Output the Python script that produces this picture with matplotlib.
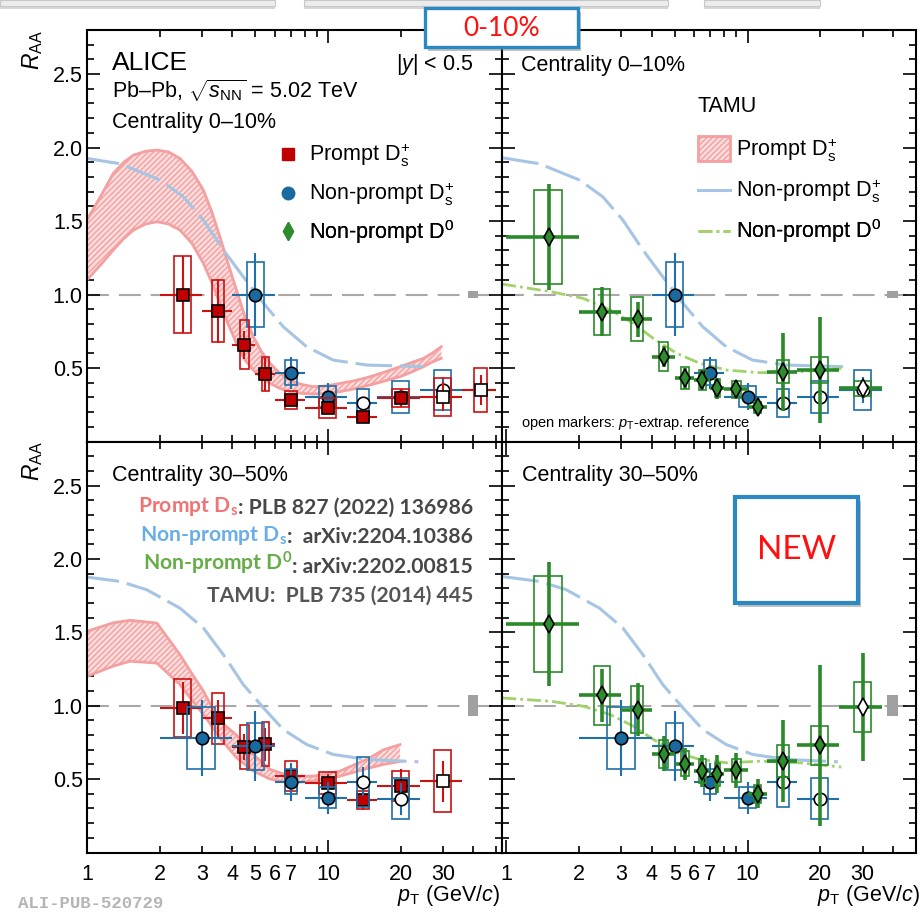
import numpy as np
import matplotlib
matplotlib.use('Agg')
import matplotlib.pyplot as plt
from matplotlib.patches import Rectangle, Patch
from matplotlib.lines import Line2D
from matplotlib.ticker import FixedLocator, MultipleLocator
import matplotlib.patheffects as pe

plt.rcParams['font.family'] = ['Liberation Sans', 'DejaVu Sans']
plt.rcParams['mathtext.fontset'] = 'custom'
plt.rcParams['mathtext.rm'] = 'Liberation Sans'
plt.rcParams['mathtext.it'] = 'Liberation Sans:italic'
plt.rcParams['mathtext.bf'] = 'Lato:bold'
plt.rcParams['hatch.linewidth'] = 1.0

# ---------------- data : centrality 0-10% ----------------
# prompt Ds+
ps010_lo = [2, 3, 4, 5, 6, 8, 12, 16, 24, 36]
ps010_hi = [3, 4, 5, 6, 8, 12, 16, 24, 36, 50]
ps010_r = [1.00, 0.888, 0.659, 0.457, 0.282, 0.226, 0.169, 0.298, 0.305, 0.350]
ps010_stat = [0.26, 0.22, 0.095, 0.11, 0.04, 0.03, 0.02, 0.06, 0.10, 0.10]
ps010_syst = [0.26, 0.21, 0.165, 0.115, 0.063, 0.068, 0.03, 0.06, 0.13, 0.15]
ps010_open = [False] * 8 + [True, True]
# non-prompt Ds+
nps010_lo = [4, 6, 8, 12, 16, 24]
nps010_hi = [6, 8, 12, 16, 24, 36]
nps010_r = [1.00, 0.468, 0.305, 0.264, 0.305, 0.350]
nps010_stat = [0.28, 0.11, 0.09, 0.04, 0.05, 0.09]
nps010_syst = [0.22, 0.085, 0.07, 0.095, 0.11, 0.135]
nps010_open = [False, False, False, True, True, True]
# non-prompt D0
npd010_lo = [1, 2, 3, 4, 5, 6, 7, 8, 10, 12, 16, 24]
npd010_hi = [2, 3, 4, 5, 6, 7, 8, 10, 12, 16, 24, 36]
npd010_r = [1.389, 0.883, 0.831, 0.577, 0.430, 0.418, 0.362, 0.355, 0.232, 0.475, 0.486, 0.362]
npd010_stat = [0.36, 0.165, 0.12, 0.07, 0.07, 0.07, 0.07, 0.06, 0.04, 0.265, 0.36, 0.05]
npd010_syst = [0.32, 0.155, 0.15, 0.10, 0.075, 0.07, 0.06, 0.06, 0.04, 0.08, 0.09, 0.05]
npd010_open = [False] * 11 + [True]

# ---------------- data : centrality 30-50% ----------------
ps3050_lo = [2, 3, 4, 5, 6, 8, 12, 16, 24]
ps3050_hi = [3, 4, 5, 6, 8, 12, 16, 24, 36]
ps3050_r = [0.985, 0.913, 0.718, 0.736, 0.520, 0.475, 0.357, 0.452, 0.486]
ps3050_stat = [0.175, 0.125, 0.09, 0.11, 0.07, 0.06, 0.07, 0.12, 0.14]
ps3050_syst = [0.20, 0.175, 0.15, 0.15, 0.10, 0.075, 0.06, 0.10, 0.21]
ps3050_open = [False] * 8 + [True]

nps3050_lo = [2, 4, 6, 8, 12, 16]
nps3050_hi = [4, 6, 8, 12, 16, 24]
nps3050_r = [0.781, 0.724, 0.482, 0.373, 0.482, 0.366]
nps3050_stat = [0.26, 0.24, 0.13, 0.11, 0.10, 0.11]
nps3050_syst = [0.21, 0.16, 0.085, 0.07, 0.17, 0.14]
nps3050_open = [False, False, False, False, True, True]

npd3050_lo = [1, 2, 3, 4, 5, 6, 7, 8, 10, 12, 16, 24]
npd3050_hi = [2, 3, 4, 5, 6, 7, 8, 10, 12, 16, 24, 36]
npd3050_r = [1.557, 1.071, 0.974, 0.672, 0.604, 0.554, 0.532, 0.559, 0.400, 0.622, 0.729, 0.992]
npd3050_stat = [0.42, 0.18, 0.18, 0.12, 0.11, 0.11, 0.13, 0.12, 0.10, 0.28, 0.55, 0.37]
npd3050_syst = [0.33, 0.20, 0.16, 0.095, 0.085, 0.08, 0.08, 0.08, 0.06, 0.11, 0.135, 0.17]
npd3050_open = [False] * 11 + [True]

# normalisation uncertainty boxes
norm_pt = 40
norm_unc_010 = 0.025
norm_unc_3050 = 0.07

# ---------------- TAMU model curves ----------------
tamu_ps010_pt = [1, 1.15, 1.285, 1.42, 1.56, 1.75, 1.95, 2.18, 2.43, 2.72, 3.04, 3.3, 3.56, 3.85, 4.17, 4.5, 4.9, 5.3, 5.75, 6.3, 6.95, 7.7, 8.67, 9.8, 11.2, 13, 14.9, 17, 19.9, 22, 24.9, 27, 29.5]
tamu_ps010_hi = [1.507, 1.68, 1.824, 1.90, 1.949, 1.975, 1.983, 1.97, 1.926, 1.84, 1.711, 1.56, 1.393, 1.21, 1.031, 0.86, 0.713, 0.61, 0.532, 0.465, 0.418, 0.39, 0.373, 0.378, 0.395, 0.415, 0.44, 0.47, 0.509, 0.535, 0.566, 0.60, 0.645]
tamu_ps010_lo = [1.10, 1.21, 1.303, 1.38, 1.439, 1.48, 1.495, 1.48, 1.439, 1.35, 1.212, 1.08, 0.94, 0.80, 0.668, 0.56, 0.486, 0.435, 0.396, 0.362, 0.339, 0.328, 0.323, 0.328, 0.339, 0.36, 0.384, 0.41, 0.441, 0.47, 0.509, 0.54, 0.566]

tamu_nps010_pt = [0.96, 1.0, 1.37, 2.01, 2.51, 3.04, 3.68, 4.45, 5.4, 6.52, 8.15, 10.5, 14.5, 19.9, 24.9]
tamu_nps010_r = [1.93, 1.926, 1.89, 1.779, 1.665, 1.507, 1.303, 1.121, 0.94, 0.781, 0.645, 0.554, 0.52, 0.514, 0.509]

tamu_npd010_pt = [0.96, 1.53, 2.08, 2.69, 3.36, 4.06, 5.08, 6.34, 8.2, 11.3, 16.5, 24.5]
tamu_npd010_r = [1.071, 1.019, 0.974, 0.895, 0.804, 0.702, 0.600, 0.532, 0.486, 0.468, 0.475, 0.498]

tamu_ps3050_pt = [1, 1.285, 1.51, 1.95, 2.43, 2.72, 3.04, 3.3, 3.56, 4.17, 4.9, 5.75, 6.95, 8.67, 11.2, 14.9, 17, 19.9]
tamu_ps3050_hi = [1.507, 1.565, 1.582, 1.563, 1.348, 1.22, 1.10, 0.99, 0.895, 0.80, 0.668, 0.566, 0.520, 0.520, 0.554, 0.645, 0.70, 0.735]
tamu_ps3050_lo = [1.20, 1.27, 1.303, 1.29, 1.144, 1.04, 0.94, 0.86, 0.78, 0.646, 0.555, 0.500, 0.475, 0.486, 0.520, 0.577, 0.60, 0.620]

tamu_nps3050_pt = [0.96, 1.37, 1.77, 2.43, 3.04, 3.68, 4.45, 5.4, 6.52, 8.15, 10.5, 14.5, 23.7]
tamu_nps3050_r = [1.88, 1.847, 1.79, 1.665, 1.529, 1.348, 1.144, 0.985, 0.838, 0.736, 0.668, 0.634, 0.618]

tamu_npd3050_pt = [0.96, 1.53, 2.08, 2.69, 3.36, 4.06, 5.08, 6.34, 8.2, 11.3, 16.5, 24.5]
tamu_npd3050_r = [1.053, 1.030, 0.997, 0.940, 0.861, 0.771, 0.681, 0.634, 0.611, 0.622, 0.611, 0.582]

xtick_major = [1, 10]
xtick_minor = [2, 3, 4, 5, 6, 7, 8, 9, 20, 30, 40, 50]
xtick_minor_labels = ['2', '3', '4', '5', '6', '7', '', '', '20', '30', '', '']
ytick_major = [0.5, 1.0, 1.5, 2.0, 2.5]

# ---------------- colours ----------------
C_RED = '#cc1111'
C_RED_F = '#c00000'
C_BLUE = '#1f70a8'
C_BLUE_F = '#1a6aa0'
C_GREEN = '#2a8a2a'
C_GREEN_F = '#2e8b2e'
C_BAND_EDGE = '#f4a0a0'
C_BAND_FILL = '#fcdcdc'
C_TBLUE = '#a6c4e4'
C_TGREEN = '#a3d16b'

W, H = 923, 914
fig = plt.figure(figsize=(W / 100, H / 100), dpi=100)
fig.patch.set_facecolor('white')


def fx(x):
    return x / W


def fy(y):
    return 1 - y / H


axTL = fig.add_axes([fx(87), fy(441.5), 415 / W, 411.5 / H])
axTR = fig.add_axes([fx(502), fy(441.5), 414 / W, 411.5 / H])
axBL = fig.add_axes([fx(87), fy(852.5), 415 / W, 411 / H])
axBR = fig.add_axes([fx(502), fy(852.5), 414 / W, 411 / H])

for ax in (axTL, axTR, axBL, axBR):
    ax.set_xscale('log')
    ax.set_ylim(0, 2.8)
    ax.xaxis.set_major_locator(FixedLocator(xtick_major))
    ax.xaxis.set_minor_locator(FixedLocator(xtick_minor))
    ax.yaxis.set_major_locator(FixedLocator(ytick_major))
    ax.yaxis.set_minor_locator(MultipleLocator(0.1))
    ax.tick_params(which='both', direction='in', top=True, right=True, width=1.2,
                   labelsize=15.5, colors='black')
    ax.tick_params(which='major', length=9.5)
    ax.tick_params(which='minor', length=4.7)
    ax.tick_params(axis='x', which='both', pad=8)
    ax.tick_params(axis='y', which='both', pad=3)
    for s in ax.spines.values():
        s.set_linewidth(1.5)
    ax.axhline(1.0, color='#a8a8a8', lw=1.5, dashes=(10.5, 4.8), zorder=1)

axTL.set_xlim(1, 52.7)
axBL.set_xlim(1, 52.7)
axTR.set_xlim(0.958, 50)
axBR.set_xlim(0.958, 50)

for ax in (axBL, axBR):
    ax.set_xticks(xtick_major, [str(v) for v in xtick_major])
    ax.set_xticks(xtick_minor, xtick_minor_labels, minor=True)
for ax in (axTL, axTR):
    ax.tick_params(axis='x', which='both', labelbottom=False)
for ax in (axTL, axBL):
    ax.set_yticks(ytick_major, ['%.1f' % v for v in ytick_major])
for ax in (axTR, axBR):
    ax.tick_params(axis='y', which='both', labelleft=False)


def draw_series(ax, lo, hi, r, stat, syst, is_open, color, mfc, marker, ms, elw, z):
    lo = np.asarray(lo, float)
    hi = np.asarray(hi, float)
    r = np.asarray(r, float)
    stat = np.asarray(stat, float)
    syst = np.asarray(syst, float)
    op = np.asarray(is_open, bool)
    pt = (lo + hi) / 2
    bw = 0.2 * (hi - lo)
    for p, w, v, s in zip(pt, bw, r, syst):
        ax.add_patch(Rectangle((p - w, v - s), 2 * w, 2 * s, fill=False,
                               edgecolor=color, lw=1.2, zorder=z))
    ax.errorbar(pt, r, xerr=[pt - lo, hi - pt], yerr=stat, fmt='none',
                ecolor=color, elinewidth=elw, capsize=0, zorder=z + 0.1)
    ax.plot(pt[~op], r[~op], ls='none', marker=marker, ms=ms, mfc=mfc,
            mec='black', mew=1.2, zorder=z + 0.2)
    ax.plot(pt[op], r[op], ls='none', marker=marker, ms=ms, mfc='white',
            mec='black', mew=1.2, zorder=z + 0.2)


def draw_band(ax, pt, lo, hi):
    ax.fill_between(pt, lo, hi, facecolor=C_BAND_FILL, edgecolor=C_BAND_EDGE,
                    hatch='//////', lw=0, zorder=2)
    ax.plot(pt, hi, color=C_BAND_EDGE, lw=2.0, zorder=2.1)
    ax.plot(pt, lo, color=C_BAND_EDGE, lw=2.0, zorder=2.1)


def draw_norm(ax, unc):
    f = 10 ** 0.022
    ax.add_patch(Rectangle((norm_pt / f, 1 - unc), norm_pt * f - norm_pt / f, 2 * unc,
                           facecolor='#a0a0a0', edgecolor='none', zorder=3))


MS_SQ, MS_CI, MS_DI = 8.8, 9.0, 8.8

# ---- top left
draw_band(axTL, tamu_ps010_pt, tamu_ps010_lo, tamu_ps010_hi)
axTL.plot(tamu_nps010_pt, tamu_nps010_r, color=C_TBLUE, lw=2.2, dashes=(12, 2.6), zorder=2.2)
draw_series(axTL, nps010_lo, nps010_hi, nps010_r, nps010_stat, nps010_syst, nps010_open,
            C_BLUE, C_BLUE_F, 'o', MS_CI, 1.5, 4)
draw_series(axTL, ps010_lo, ps010_hi, ps010_r, ps010_stat, ps010_syst, ps010_open,
            C_RED, C_RED_F, 's', MS_SQ, 1.5, 5)
draw_norm(axTL, norm_unc_010)

# ---- top right
axTR.plot(tamu_nps010_pt, tamu_nps010_r, color=C_TBLUE, lw=2.2, dashes=(12, 2.6), zorder=2.2)
axTR.plot(tamu_npd010_pt, tamu_npd010_r, color=C_TGREEN, lw=2.0, dashes=(5, 1.5, 1, 1.5), zorder=2.2)
draw_series(axTR, nps010_lo, nps010_hi, nps010_r, nps010_stat, nps010_syst, nps010_open,
            C_BLUE, C_BLUE_F, 'o', MS_CI, 1.5, 4)
draw_series(axTR, npd010_lo, npd010_hi, npd010_r, npd010_stat, npd010_syst, npd010_open,
            C_GREEN, C_GREEN_F, 'd', MS_DI, 2.6, 5)
draw_norm(axTR, norm_unc_010)

# ---- bottom left
draw_band(axBL, tamu_ps3050_pt, tamu_ps3050_lo, tamu_ps3050_hi)
axBL.plot(tamu_nps3050_pt, tamu_nps3050_r, color=C_TBLUE, lw=2.2, dashes=(12, 2.6), zorder=2.2)
draw_series(axBL, ps3050_lo, ps3050_hi, ps3050_r, ps3050_stat, ps3050_syst, ps3050_open,
            C_RED, C_RED_F, 's', MS_SQ, 1.5, 4)
draw_series(axBL, nps3050_lo, nps3050_hi, nps3050_r, nps3050_stat, nps3050_syst, nps3050_open,
            C_BLUE, C_BLUE_F, 'o', MS_CI, 1.5, 5)
draw_norm(axBL, norm_unc_3050)

# ---- bottom right
axBR.plot(tamu_nps3050_pt, tamu_nps3050_r, color=C_TBLUE, lw=2.2, dashes=(12, 2.6), zorder=2.2)
axBR.plot(tamu_npd3050_pt, tamu_npd3050_r, color=C_TGREEN, lw=2.0, dashes=(5, 1.5, 1, 1.5), zorder=2.2)
draw_series(axBR, nps3050_lo, nps3050_hi, nps3050_r, nps3050_stat, nps3050_syst, nps3050_open,
            C_BLUE, C_BLUE_F, 'o', MS_CI, 1.5, 4)
draw_series(axBR, npd3050_lo, npd3050_hi, npd3050_r, npd3050_stat, npd3050_syst, npd3050_open,
            C_GREEN, C_GREEN_F, 'd', MS_DI, 2.6, 5)
draw_norm(axBR, norm_unc_3050)

# ---------------- texts ----------------
FS = 15.5
axTL.text(0.0595, 0.9028, 'ALICE', transform=axTL.transAxes, fontsize=19, va='baseline')
axTL.text(0.931, 0.9028, r'|$y$| < 0.5', transform=axTL.transAxes, fontsize=FS, va='baseline', ha='right')
axTL.text(0.0595, 0.834, r'Pb–Pb, $\sqrt{s_{\mathrm{NN}}}$ = 5.02 TeV', transform=axTL.transAxes,
          fontsize=FS, va='baseline')
axTL.text(0.0595, 0.7626, 'Centrality 0–10%', transform=axTL.transAxes, fontsize=FS, va='baseline')
axTR.text(0.0452, 0.9011, 'Centrality 0–10%', transform=axTR.transAxes, fontsize=FS, va='baseline')
axBL.text(0.0595, 0.9046, 'Centrality 30–50%', transform=axBL.transAxes, fontsize=FS, va='baseline')
axBR.text(0.0475, 0.9046, 'Centrality 30–50%', transform=axBR.transAxes, fontsize=FS, va='baseline')
axTR.text(0.0452, 0.036, r'open markers: $p_{\mathrm{T}}$-extrap. reference', transform=axTR.transAxes,
          fontsize=10.5, va='baseline')
axTR.text(0.4734, 0.8135, 'TAMU', transform=axTR.transAxes, fontsize=FS, va='center')


def legend_row(ax, handle, label, x, y, hl, htp, hh=0.7):
    leg = ax.legend([handle], [label], loc='center left', bbox_to_anchor=(x, y),
                    bbox_transform=ax.transAxes, frameon=False, borderpad=0,
                    borderaxespad=0, handlelength=hl, handletextpad=htp,
                    handleheight=hh, fontsize=FS)
    ax.add_artist(leg)


lab_ps = r'Prompt $\mathrm{D}_{\mathrm{s}}^{+}$'
lab_nps = r'Non-prompt $\mathrm{D}_{\mathrm{s}}^{+}$'
lab_npd = r'Non-prompt $\mathrm{D}^{0}$'

legend_row(axTL, Line2D([], [], ls='none', marker='s', ms=MS_SQ, mfc=C_RED_F, mec=C_RED_F),
           lab_ps, 0.4586, 0.695, 1.0, 0.47)
legend_row(axTL, Line2D([], [], ls='none', marker='o', ms=MS_CI, mfc=C_BLUE_F, mec=C_BLUE_F),
           lab_nps, 0.4586, 0.600, 1.0, 0.47)
legend_row(axTL, Line2D([], [], ls='none', marker='d', ms=MS_DI, mfc=C_GREEN_F, mec=C_GREEN_F),
           lab_npd, 0.4586, 0.510, 1.0, 0.47)

legend_row(axTR, Patch(facecolor=C_BAND_FILL, edgecolor=C_BAND_EDGE, hatch='//////', lw=2),
           lab_ps, 0.4734, 0.709, 1.49, 0.28, hh=1.4)
legend_row(axTR, Line2D([], [], color=C_TBLUE, lw=2.2), lab_nps, 0.4734, 0.607, 1.49, 0.28)
legend_row(axTR, Line2D([], [], color=C_TGREEN, lw=2.0, dashes=(5, 1.5, 1, 1.5)), lab_npd,
           0.4734, 0.511, 1.49, 0.28)

# citations (bottom-left), right aligned
CFS = 15.2
cites = [
    (r'Prompt $\mathbf{D_s}$', ': PLB 827 (2022) 136986', '#f07474', 0.8236),
    (r'Non-prompt $\mathbf{D_s}$', ':  arXiv:2204.10386', '#6aaee6', 0.7523),
    (r'Non-prompt $\mathbf{D^0}$', ': arXiv:2202.00815', '#66ad48', 0.6808),
]
for colored, rest, col, yy in cites:
    t = axBL.text(0.931, yy, rest, transform=axBL.transAxes, fontsize=CFS, fontweight='bold',
                  family=['Lato', 'DejaVu Sans'], color='#474747', ha='right', va='baseline')
    axBL.annotate(colored, xy=(0, 0), xycoords=t, fontsize=CFS, fontweight='bold',
                  family=['Lato', 'DejaVu Sans'], color=col, ha='right', va='bottom')
axBL.text(0.931, 0.6102, 'TAMU:  PLB 735 (2014) 445', transform=axBL.transAxes, fontsize=CFS,
          fontweight='bold', family=['Lato', 'DejaVu Sans'], color='#555555', ha='right', va='baseline')

# axis titles
for ytop in (30, 441):
    fig.text(fx(33), fy(ytop), r'$R_{\mathrm{AA}}$', rotation=90, ha='center', va='top', fontsize=16.5)
for xr in (500, 920):
    fig.text(fx(xr), fy(901), r'$p_{\mathrm{T}}$ (GeV/$c$)', ha='right', va='baseline', fontsize=15.5)

fig.text(fx(18), fy(903), 'ALI-PUB-520729', family=['Liberation Mono', 'DejaVu Sans Mono'],
         fontweight='bold', fontsize=12.5, color='#b5b5b5', ha='left', va='center')

# top faint slide shadows
for x0, x1 in ((0, 275), (304, 668), (704, 820)):
    r = Rectangle((fx(x0), fy(6)), (x1 - x0) / W, 6 / H, transform=fig.transFigure,
                  facecolor='#ececec', edgecolor='#c8c8c8', lw=0.8, zorder=0,
                  path_effects=[pe.withSimplePatchShadow(offset=(0, -2), shadow_rgbFace='#999999', alpha=0.4)])
    fig.add_artist(r)

# boxes "0-10%" and "NEW"
shadow = [pe.withSimplePatchShadow(offset=(2, -3), shadow_rgbFace='#777777', alpha=0.45)]
b1 = Rectangle((fx(425), fy(47)), 153 / W, 39 / H, transform=fig.transFigure,
               facecolor='white', edgecolor='#2b88c2', lw=2.4, zorder=10, path_effects=shadow)
fig.add_artist(b1)
fig.text(fx(501.5), fy(28), '0-10%', color='#ff1010', fontsize=19, family=['Lato', 'DejaVu Sans'],
         ha='center', va='center', zorder=11)
b2 = Rectangle((fx(735), fy(603)), 123 / W, 106 / H, transform=fig.transFigure,
               facecolor='white', edgecolor='#2b88c2', lw=3.0, zorder=10, path_effects=shadow)
fig.add_artist(b2)
fig.text(fx(797), fy(550), 'NEW', color='#ff1010', fontsize=24, family=['Lato', 'DejaVu Sans'],
         ha='center', va='center', zorder=11)

fig.savefig('out.png', dpi=100, facecolor='white')
